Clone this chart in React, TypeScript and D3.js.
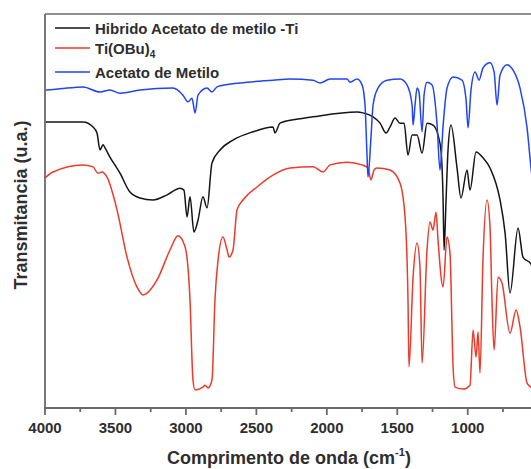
import React from "react";
import * as d3 from "d3";

// Wavenumber (cm-1), transmittance (a.u.)
const hibridoData: [number, number][] = [
  [4000, 72.6], [3730, 72.6], [3659, 71.3], [3631, 69.8], [3610, 65.5], [3588, 66.8],
  [3574, 66.0], [3539, 63.7], [3468, 59.6], [3397, 54.8], [3326, 53.3], [3234, 52.8],
  [3134, 54.1], [3042, 55.8], [3014, 55.3], [2992, 48.5], [2971, 53.6], [2943, 44.7],
  [2914, 47.7], [2879, 53.6], [2850, 50.8], [2815, 62.2], [2758, 65.5], [2666, 68.0],
  [2524, 70.1], [2382, 71.3], [2368, 69.8], [2332, 72.3], [2190, 73.4], [2098, 73.9],
  [1786, 75.1], [1743, 74.9], [1672, 73.9], [1622, 72.3], [1580, 69.8], [1552, 71.3],
  [1516, 73.6], [1481, 72.3], [1452, 72.3], [1424, 64.2], [1395, 69.3], [1360, 69.3],
  [1324, 64.7], [1289, 72.3], [1246, 71.8], [1211, 69.3], [1189, 65.0], [1175, 52.8],
  [1168, 40.1], [1154, 52.8], [1140, 65.5], [1119, 71.8], [1076, 60.9], [1048, 53.3],
  [1005, 60.4], [984, 55.3], [941, 65.0], [892, 63.5], [842, 60.9], [771, 52.8],
  [735, 44.4], [700, 29.2], [643, 45.7], [608, 38.3], [551, 36.5], [487, 27.4],
];

const tiobuData: [number, number][] = [
  [4000, 58.4], [3943, 59.9], [3730, 61.7], [3659, 61.2], [3624, 59.6], [3595, 59.9],
  [3560, 58.6], [3489, 50.3], [3418, 38.3], [3347, 30.7], [3304, 28.7], [3205, 32.5],
  [3113, 40.1], [3056, 43.7], [3006, 40.9], [2971, 27.4], [2950, 7.1], [2935, 4.6],
  [2879, 5.3], [2864, 5.8], [2843, 5.1], [2815, 7.1], [2794, 27.4], [2772, 37.6],
  [2737, 43.4], [2708, 40.1], [2694, 38.3], [2666, 40.1], [2637, 50.3], [2595, 52.8],
  [2495, 56.1], [2382, 59.1], [2261, 60.9], [2098, 61.2], [2027, 59.9], [1977, 61.7],
  [1857, 62.4], [1750, 61.7], [1708, 60.9], [1687, 57.9], [1665, 60.4], [1644, 60.9],
  [1552, 60.4], [1481, 57.1], [1445, 48.5], [1424, 27.4], [1417, 10.4], [1388, 33.2],
  [1360, 41.9], [1339, 35.8], [1324, 11.4], [1289, 40.1], [1268, 47.2], [1246, 45.2],
  [1225, 49.7], [1211, 42.6], [1175, 30.7], [1147, 43.4], [1126, 39.3], [1104, 10.4],
  [1090, 5.3], [1033, 4.8], [984, 5.8], [962, 19.8], [941, 12.9], [927, 19.3],
  [913, 8.9], [892, 37.6], [863, 52.8], [842, 45.9], [828, 27.4], [813, 14.7],
  [785, 33.2], [757, 31.7], [700, 19.0], [657, 24.9], [629, 20.6], [579, 6.3],
  [551, 5.3], [487, 4.6],
];

const acetatoData: [number, number][] = [
  [4000, 80.7], [3986, 80.7], [3894, 81.0], [3730, 81.5], [3610, 80.2], [3539, 80.7],
  [3468, 79.9], [3326, 80.7], [3092, 81.2], [3021, 79.4], [2985, 77.7], [2957, 78.6],
  [2935, 74.9], [2914, 79.4], [2850, 81.2], [2815, 80.2], [2779, 81.5], [2616, 82.5],
  [2382, 83.2], [2261, 83.5], [2098, 83.2], [2048, 82.5], [1977, 83.5], [1857, 83.5],
  [1835, 82.7], [1786, 83.5], [1750, 82.0], [1729, 76.9], [1715, 64.2], [1708, 58.6],
  [1687, 68.5], [1672, 76.9], [1637, 81.2], [1573, 83.2], [1481, 83.5], [1431, 82.0],
  [1395, 76.9], [1388, 71.8], [1374, 76.9], [1360, 81.2], [1346, 80.2], [1324, 70.1],
  [1310, 79.4], [1289, 82.7], [1253, 82.0], [1218, 72.1], [1197, 60.4], [1175, 71.6],
  [1147, 81.2], [1104, 84.0], [1041, 83.2], [1012, 78.2], [998, 71.1], [977, 80.7],
  [948, 85.3], [920, 83.2], [892, 86.3], [842, 87.6], [813, 85.3], [792, 76.9],
  [771, 84.5], [721, 87.1], [679, 85.8], [629, 81.2], [579, 71.1], [551, 60.9],
  [487, 45.2],
];

const majorTicks = [4000, 3500, 3000, 2500, 2000, 1500, 1000];
const minorTicks = [3750, 3250, 2750, 2250, 1750, 1250, 750];

const seriesNames = ["Hibrido Acetato de metilo -Ti", "Ti(OBu)", "Acetato de Metilo"];
const seriesColors = ["#151515", "#ec3b2b", "#2244f2"];

const W = 531;
const H = 469;

export default function App() {
  const x = d3.scaleLinear().domain([4000, 400]).range([45, 552.3]);
  const y = d3.scaleLinear().domain([0, 100]).range([408, 14]);
  const line = d3
    .line<[number, number]>()
    .x((d) => x(d[0]))
    .y((d) => y(d[1]))
    .curve(d3.curveMonotoneX);

  const axisColor = "#6a6a6a";
  const font = "'Liberation Sans', Arial, sans-serif";
  const textColor = "#2e2e2e";

  const legendRows = [28, 48, 72];

  return (
    <div style={{ position: "fixed", left: 0, top: 0 }}>
      <svg width={W} height={H} style={{ display: "block", background: "#fff" }}>
        <defs>
          <clipPath id="plotclip">
            <rect x={45} y={14} width={W - 45} height={394} />
          </clipPath>
        </defs>
        <g clipPath="url(#plotclip)" fill="none" strokeWidth={1.5} strokeLinejoin="round">
          <path d={line(tiobuData) || ""} stroke={seriesColors[1]} />
          <path d={line(hibridoData) || ""} stroke={seriesColors[0]} />
          <path d={line(acetatoData) || ""} stroke={seriesColors[2]} />
        </g>
        {/* frame */}
        <line x1={45} x2={W} y1={14} y2={14} stroke={axisColor} strokeWidth={1.5} />
        <line x1={45} x2={45} y1={14} y2={409} stroke={axisColor} strokeWidth={1.8} />
        <line x1={44} x2={W} y1={408} y2={408} stroke={axisColor} strokeWidth={1.8} />
        {majorTicks.map((t) => (
          <g key={"M" + t}>
            <line x1={x(t)} x2={x(t)} y1={408} y2={415} stroke={axisColor} strokeWidth={1.8} />
            <text
              x={x(t)}
              y={433}
              textAnchor="middle"
              fontFamily={font}
              fontWeight="bold"
              fontSize={15}
              fill={textColor}
            >
              {t}
            </text>
          </g>
        ))}
        {minorTicks.map((t) => (
          <line key={"m" + t} x1={x(t)} x2={x(t)} y1={408} y2={412} stroke={axisColor} strokeWidth={1.8} />
        ))}
        {/* axis titles */}
        <text
          x={289}
          y={464}
          textAnchor="middle"
          fontFamily={font}
          fontWeight="bold"
          fontSize={18}
          fill={textColor}
        >
          Comprimento de onda (cm
          <tspan fontSize={11} dy={-8}>-1</tspan>
          <tspan dy={8}>)</tspan>
        </text>
        <text
          transform="translate(27,205) rotate(-90)"
          textAnchor="middle"
          fontFamily={font}
          fontWeight="bold"
          fontSize={18}
          fill={textColor}
        >
          Transmitancia (u.a.)
        </text>
        {/* legend */}
        {legendRows.map((ly, i) => (
          <g key={"lg" + i}>
            <line x1={55} x2={90} y1={ly} y2={ly} stroke={seriesColors[i]} strokeWidth={1.5} />
            <text
              x={95}
              y={ly + 5.5}
              fontFamily={font}
              fontWeight="bold"
              fontSize={15}
              fill={textColor}
            >
              {seriesNames[i]}
              {i === 1 ? (
                <tspan fontSize={10} dy={4}>4</tspan>
              ) : null}
            </text>
          </g>
        ))}
      </svg>
    </div>
  );
}
